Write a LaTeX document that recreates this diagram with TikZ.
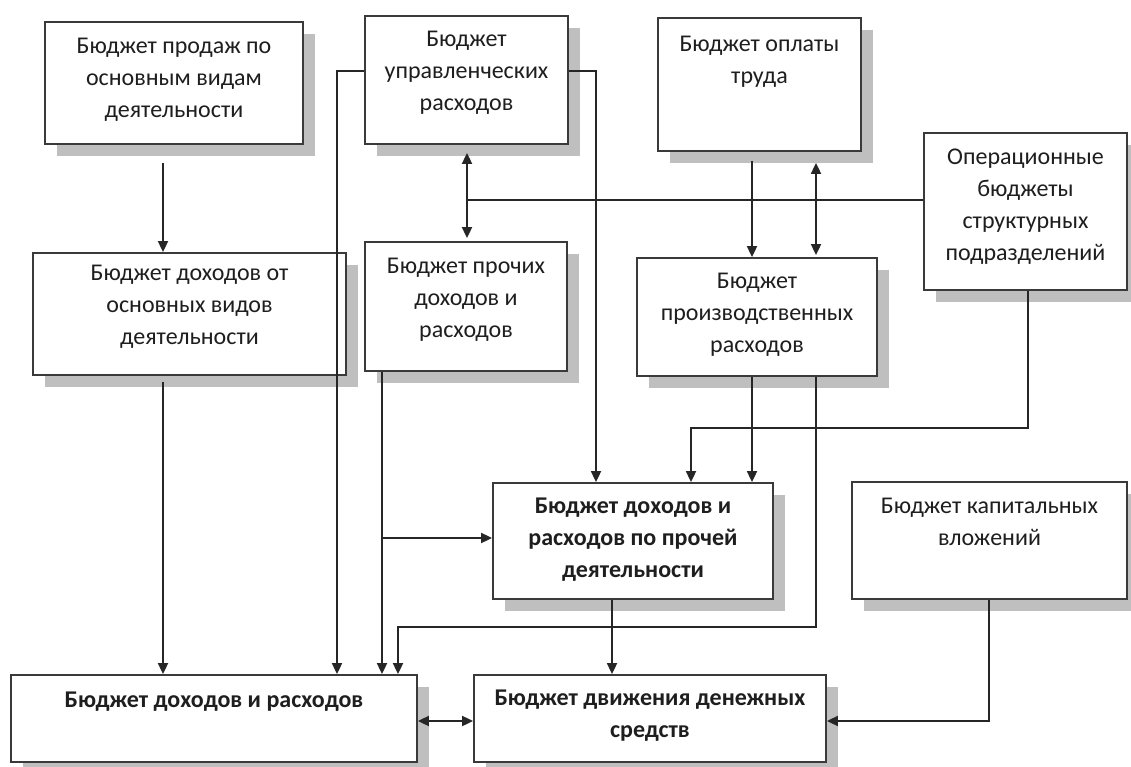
\documentclass[tikz,border=0pt]{standalone}
\usepackage{fontspec}
\setmainfont{Carlito}
\usetikzlibrary{arrows.meta,shadows,fit}
\definecolor{edge}{HTML}{3A3A3A}
\definecolor{shade}{HTML}{BFBFBF}
\definecolor{ink}{HTML}{1E1E1E}
\begin{document}
\begin{tikzpicture}[x=1pt,y=-1pt,
  box/.style={draw=edge, line width=1.8pt, fill=white, inner sep=0pt,
    general shadow={fill=shade, shadow xshift=12pt, shadow yshift=-12pt}},
  txt/.style={align=center, inner sep=0pt, text=ink,
    font=\fontsize{24}{32}\selectfont},
  btxt/.style={txt, font=\fontsize{24}{32}\selectfont\bfseries},
  wire/.style={line width=1.8pt, draw=black!85},
  arr/.style={wire, -{Triangle[length=11pt,width=10pt]}},
  dbl/.style={wire, {Triangle[length=11pt,width=10pt]}-{Triangle[length=11pt,width=10pt]}}]
\useasboundingbox (0,0) rectangle (1131,767);

% budget blocks
\node[box, fit={(45,22) (303,144)}] (sales) {};
\node[txt] (sales-t) at (174,80) {Бюджет продаж по\\основным видам\\деятельности};

\node[box, fit={(365,16) (568,144)}] (mgmt) {};
\node[txt] (mgmt-t) at (466.5,73) {Бюджет\\управленческих\\расходов};

\node[box, fit={(658,18) (861,151)}] (labor) {};
\node[txt] (labor-t) at (759.5,62) {Бюджет оплаты\\труда};

\node[box, fit={(924,133) (1127,290)}] (ops) {};
\node[txt] (ops-t) at (1025.5,207) {Операционные\\бюджеты\\структурных\\подразделений};

\node[box, fit={(33,253) (346,375)}] (income) {};
\node[txt] (income-t) at (189.5,307) {Бюджет доходов от\\основных видов\\деятельности};

\node[box, fit={(365,242) (567,371)}] (other) {};
\node[txt] (other-t) at (466,300) {Бюджет прочих\\доходов и\\расходов};

\node[box, fit={(637,258) (877,376)}] (prod) {};
\node[txt] (prod-t) at (757,315) {Бюджет\\производственных\\расходов};

\node[box, fit={(493,483) (773,599)}] (otheract) {};
\node[btxt] (otheract-t) at (633,540) {Бюджет доходов и\\расходов по прочей\\деятельности};

\node[box, fit={(852,482) (1127,599)}] (capital) {};
\node[txt] (capital-t) at (989.5,522) {Бюджет капитальных\\вложений};

\node[box, fit={(11,675) (417,762)}] (total) {};
\node[btxt] (total-t) at (214,702) {Бюджет доходов и расходов};

\node[box, fit={(474,675) (826,762)}] (cash) {};
\node[btxt] (cash-t) at (650,716) {Бюджет движения денежных\\средств};

% junction on the line from the operational budgets
\coordinate (j1) at (467,200);

% connectors
\draw[arr, shorten <=18pt] (sales.south -| 163,0) -- (income.north -| 163,0);
\draw[arr, shorten <=6pt] (income.south -| 163,0) -- (total.north -| 163,0);
\draw[arr] (mgmt.west |- 0,71) -| (total.north -| 337,0);
\draw[arr] (other.south -| 382,0) -- (total.north -| 382,0);
\draw[arr] (other.south -| 382,0) |- (otheract.west |- 0,538);
\draw[arr] (mgmt.east |- 0,71) -| (otheract.north -| 596,0);
\draw[arr] (prod.south -| 752,0) -- (otheract.north -| 752,0);
\draw[arr] (ops.south -| 1028,0) |- (691,428) -- (otheract.north -| 691,0);
\draw[arr] (prod.south -| 816,0) |- (398,627) -- (total.north -| 398,0);
\draw[arr] (otheract.south -| 612,0) -- (cash.north -| 612,0);
\draw[dbl] (total.east |- 0,721) -- (cash.west |- 0,721);
\draw[arr] (capital.south -| 989,0) |- (cash.east |- 0,721);
\draw[dbl, shorten <=8pt, shorten >=3pt] (mgmt.south -| 467,0) -- (other.north -| 467,0);
\draw[wire] (j1) -- (ops.west |- 0,200);
\draw[arr, shorten <=9pt] (labor.south -| 752,0) -- (prod.north -| 752,0);
\draw[dbl, shorten <=11pt, shorten >=2pt] (labor.south -| 816,0) -- (prod.north -| 816,0);
\end{tikzpicture}
\end{document}
